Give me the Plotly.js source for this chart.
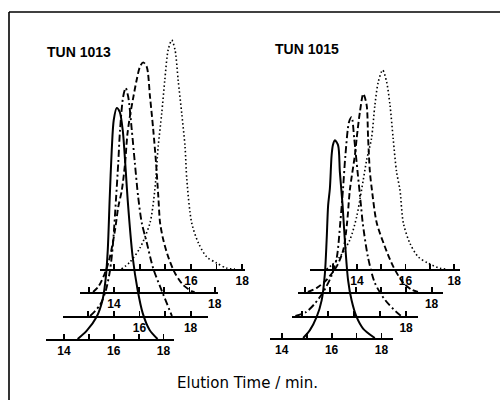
<!DOCTYPE html>
<html>
<head>
<meta charset="utf-8">
<script src="https://cdn.plot.ly/plotly-3.0.1.min.js"></script>
<style>html,body{margin:0;padding:0;background:#fff}#chart{width:500px;height:400px}</style>
</head>
<body>
<div id="chart"></div>
<script>
// ---------- DATA (elution time in min, relative detector response) ----------
// TUN 1013
const tun1013_solid_t   = [14.55,14.91,15.31,15.55,15.67,15.76,15.84,15.92,16.00,16.12,16.24,16.36,16.48,16.56,16.76,16.96,17.16,17.44,17.76];
const tun1013_solid_h   = [0,0.035,0.095,0.169,0.255,0.385,0.615,0.818,0.948,1.0,0.983,0.905,0.732,0.602,0.355,0.212,0.113,0.039,0];
const tun1013_dashdot_t = [14.07,14.46,14.69,14.85,14.96,15.08,15.17,15.24,15.36,15.46,15.56,15.70,15.82,15.95,16.09,16.28,16.54,16.87,17.27];
const tun1013_dashdot_h = [0,0.048,0.113,0.199,0.307,0.502,0.662,0.805,0.948,0.987,0.949,0.805,0.662,0.515,0.403,0.320,0.205,0.110,0];
const tun1013_dash_t    = [13.17,13.38,13.64,13.84,14.04,14.17,14.31,14.44,14.53,14.63,14.77,14.90,15.03,15.16,15.30,15.43,15.56,15.67,15.76,15.83,15.96,16.15,16.42,16.75,17.08,17.20];
const tun1013_dash_h    = [0,0.023,0.082,0.153,0.268,0.369,0.440,0.558,0.680,0.759,0.845,0.918,0.975,0.994,0.975,0.845,0.701,0.558,0.413,0.299,0.225,0.153,0.082,0.030,0.004,0];
const tun1013_dot_t     = [13.29,13.62,14.01,14.40,14.59,14.72,14.86,14.98,15.11,15.25,15.38,15.50,15.64,15.77,15.84,16.03,16.29,16.61,17.00,17.39,17.72];
const tun1013_dot_h     = [0,0.030,0.091,0.199,0.342,0.529,0.674,0.818,0.948,0.991,0.948,0.818,0.674,0.529,0.385,0.199,0.113,0.053,0.026,0.004,0];
// TUN 1015
const tun1015_solid_t   = [14.86,15.13,15.40,15.60,15.73,15.80,15.86,15.93,16.00,16.05,16.13,16.26,16.33,16.44,16.53,16.66,16.80,17.00,17.26,17.73];
const tun1015_solid_h   = [0,0.034,0.091,0.163,0.279,0.423,0.574,0.647,0.791,0.834,0.856,0.834,0.719,0.574,0.423,0.250,0.163,0.091,0.041,0];
const tun1015_dashdot_t = [13.73,14.13,14.46,14.80,15.13,15.33,15.46,15.57,15.66,15.80,15.90,16.00,16.13,16.26,16.33,16.53,16.80,17.20,17.60,17.81];
const tun1015_dashdot_h = [0,0.016,0.051,0.103,0.176,0.255,0.401,0.553,0.696,0.840,0.861,0.768,0.623,0.479,0.401,0.255,0.142,0.068,0.020,0];
const tun1015_dash_t    = [13.11,13.45,13.85,14.25,14.51,14.66,14.77,14.97,15.04,15.17,15.30,15.43,15.49,15.56,15.64,15.83,16.15,16.48,16.88,17.21,17.46];
const tun1015_dash_h    = [0,0.017,0.053,0.111,0.183,0.300,0.443,0.594,0.667,0.782,0.858,0.811,0.667,0.522,0.443,0.300,0.197,0.111,0.039,0.010,0];
const tun1015_dot_t     = [12.75,12.96,13.30,13.71,13.99,14.12,14.26,14.40,14.60,14.74,14.88,15.06,15.22,15.36,15.49,15.63,15.77,15.91,16.18,16.52,16.93,17.42,17.70];
const tun1015_dot_h     = [0,0.017,0.053,0.126,0.226,0.299,0.385,0.472,0.566,0.710,0.811,0.861,0.811,0.710,0.566,0.421,0.342,0.199,0.111,0.053,0.025,0.003,0];

// tick labels per baseline (back -> front)
const tickValsA = [13,14,15,16,17,18];
const tickValsB = [14,15,16,17,18];
const tun1013_labels1 = ['','','','16','','18'];
const tun1013_labels2 = ['','14','','','','18'];
const tun1013_labels3 = ['','','16','','18'];
const tun1013_labels4 = ['14','','16','','18'];
const tun1015_labels1 = ['','14','','16','','18'];
const tun1015_labels2 = ['','','','','','18'];
const tun1015_labels3 = ['','','','','18'];
const tun1015_labels4 = ['14','','16','','18'];

const panelTitles = ['TUN 1013','TUN 1015'];
const xTitle = 'Elution Time / min.';

// ---------- LAYOUT helpers ----------
const W = 500, H = 400, SPAN = 250, UNIT = 231;
const styles = {
  solid:   {color:'#000', width:2.0, dash:'solid'},
  dashdot: {color:'#000', width:1.9, dash:'7px,3px,2px,3px'},
  dash:    {color:'#000', width:1.9, dash:'6px,3px'},
  dot:     {color:'#000', width:1.6, dash:'1.5px,2.5px'}
};
// [style, t, h, tickvals, ticktext, baseline px, x0 px, x1 px, t at x0, t at x1]
const layers = [
  ['dot',     tun1013_dot_t,     tun1013_dot_h,     tickValsA, tun1013_labels1, 269, 100, 245, 12.45, 18.11],
  ['dash',    tun1013_dash_t,    tun1013_dash_h,    tickValsA, tun1013_labels2, 292,  80, 218, 12.65, 18.13],
  ['dashdot', tun1013_dashdot_t, tun1013_dashdot_h, tickValsB, tun1013_labels3, 316,  63, 208, 13.01, 18.68],
  ['solid',   tun1013_solid_t,   tun1013_solid_h,   tickValsB, tun1013_labels4, 339,  46, 174, 13.28, 18.42],
  ['dot',     tun1015_dot_t,     tun1015_dot_h,     tickValsA, tun1015_labels1, 269, 310, 460, 12.07, 18.24],
  ['dash',    tun1015_dash_t,    tun1015_dash_h,    tickValsA, tun1015_labels2, 292, 298, 443, 12.72, 18.45],
  ['dashdot', tun1015_dashdot_t, tun1015_dashdot_h, tickValsB, tun1015_labels3, 316, 292, 418, 13.60, 18.46],
  ['solid',   tun1015_solid_t,   tun1015_solid_h,   tickValsB, tun1015_labels4, 338, 270, 393, 13.53, 18.46]
];

const FONT = 'Liberation Sans, Arial, sans-serif';
const traces = [];
const layout = {
  width: W, height: H,
  margin: {l:0, r:0, t:0, b:0, pad:0},
  paper_bgcolor: '#fff', plot_bgcolor: 'rgba(0,0,0,0)',
  showlegend: false,
  font: {family:FONT, color:'#000'},
  shapes: [
    {type:'line', xref:'paper', yref:'paper', x0:9/W, x1:9/W, y0:0, y1:(H-12)/H, line:{color:'#000', width:1.6}},
    {type:'line', xref:'paper', yref:'paper', x0:9/W, x1:1, y0:(H-12)/H, y1:(H-12)/H, line:{color:'#000', width:1.6}}
  ],
  annotations: [
    {text:panelTitles[0], xref:'paper', yref:'paper', x:45/W, y:(H-52)/H, xanchor:'left', yanchor:'middle', showarrow:false, font:{size:14, weight:'bold', family:FONT, color:'#000'}},
    {text:panelTitles[1], xref:'paper', yref:'paper', x:273/W, y:(H-49)/H, xanchor:'left', yanchor:'middle', showarrow:false, font:{size:14, weight:'bold', family:FONT, color:'#000'}},
    {text:xTitle, xref:'paper', yref:'paper', x:247/W, y:(H-383)/H, xanchor:'center', yanchor:'middle', showarrow:false, font:{size:15, family:'DejaVu Sans, sans-serif', color:'#000'}}
  ]
};

layers.forEach((L, i) => {
  const n = i + 1;
  const [st, t, h, tv, tt, base, x0, x1, r0, r1] = L;
  const xa = n === 1 ? 'x' : 'x' + n;
  const ya = n === 1 ? 'y' : 'y' + n;
  traces.push({x:t, y:h, type:'scatter', mode:'lines', line:Object.assign({shape:'spline', smoothing:0.8}, styles[st]), xaxis:xa, yaxis:ya, hoverinfo:'skip', cliponaxis:false});
  const yb = (H - base) / H;
  layout['xaxis' + (n === 1 ? '' : n)] = {
    domain:[x0/W, x1/W], range:[r0, r1], anchor:ya,
    showline:true, linecolor:'#000', linewidth:2,
    ticks:'inside', ticklen:5, tickwidth:1.8, tickcolor:'#000',
    tickmode:'array', tickvals:tv, ticktext:tt,
    tickfont:{size:12, weight:'bold', family:FONT, color:'#000'},
    showgrid:false, zeroline:false, fixedrange:true
  };
  layout['yaxis' + (n === 1 ? '' : n)] = {
    domain:[yb, yb + SPAN/H], range:[0, SPAN/UNIT], anchor:xa,
    visible:false, showgrid:false, zeroline:false, fixedrange:true
  };
});

Plotly.newPlot('chart', traces, layout, {staticPlot:true, displayModeBar:false});
</script>
</body>
</html>
